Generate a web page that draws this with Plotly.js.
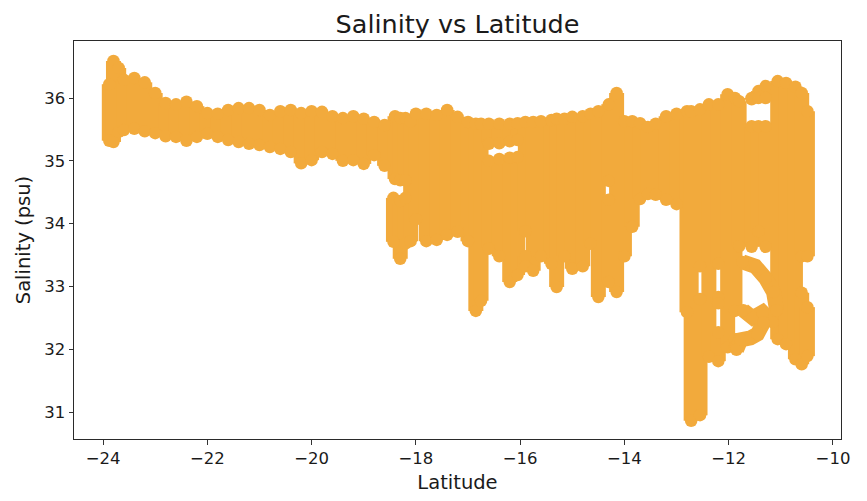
<!DOCTYPE html>
<html>
<head>
<meta charset="utf-8">
<script src="https://cdn.plot.ly/plotly-3.0.1.min.js"></script>
<style>html,body{margin:0;padding:0;background:#fff}</style>
</head>
<body>
<div id="chart" style="width:867px;height:501px"></div>
<script>
const chartTitle = "Salinity vs Latitude";
const xAxisTitle = "Latitude";
const yAxisTitle = "Salinity (psu)";
const latitudeTicks = [-24,-22,-20,-18,-16,-14,-12,-10];
const salinityTicks = [31,32,33,34,35,36];

// Survey sweeps: latitude, highest and lowest salinity of each sweep
const sweepLatitude = [
-23.88,-23.8,-23.7,-23.6,-23.4,-23.2,-23,-22.8,-22.6,-22.4,-22.2,-22,-21.8,-21.6,-21.4,-21.2,-21,-20.8,-20.6,-20.4,
-20.2,-20,-19.8,-19.6,-19.4,-19.2,-19,-18.8,-18.6,-18.4,-18.43,-18.3,-18.3,-18.2,-18.2,-18.1,-18,-17.8,-17.6,-17.4,
-17.2,-17,-16.85,-16.75,-16.6,-16.6,-16.4,-16.4,-16.2,-16.2,-16.05,-16.05,-15.9,-15.9,-15.75,-15.6,-15.4,-15.3,-15.15,-15,
-14.8,-14.65,-14.5,-14.3,-14.3,-14.15,-14,-13.85,-13.7,-13.55,-13.4,-13.2,-13,-12.8,-12.72,-12.55,-12.55,-12.38,-12.2,-12.2,
-12.2,-12.02,-11.88,-11.88,-11.8,-11.56,-11.56,-11.43,-11.43,-11.29,-11.29,-11.06,-10.9,-10.72,-10.6,-10.6,-10.49,-10.49];
const sweepHigh = [
36.22,36.59,36.48,36.29,36.32,36.25,36.08,35.92,35.90,35.94,35.87,35.76,35.75,35.81,35.84,35.84,35.81,35.73,35.79,35.81,
35.76,35.79,35.78,35.71,35.68,35.71,35.67,35.62,35.57,35.71,34.41,35.68,34.36,35.68,34.41,35.63,35.75,35.75,35.73,35.81,
35.70,35.62,35.59,35.59,35.59,35.00,35.59,35.03,35.59,35.05,35.60,35.06,35.62,33.48,35.62,35.63,35.65,35.67,35.67,35.70,
35.71,35.75,35.79,35.90,34.38,36.08,35.63,35.63,35.60,35.54,35.59,35.71,35.75,35.79,35.79,35.82,32.80,35.90,35.90,32.83,
32.27,36.06,36.00,32.16,35.95,36.00,35.55,36.11,35.55,36.19,35.55,36.27,36.24,36.18,36.08,32.90,35.79,32.67];
const sweepLow = [
35.32,35.30,35.46,35.49,35.51,35.47,35.44,35.39,35.38,35.32,35.38,35.43,35.38,35.33,35.30,35.27,35.25,35.22,35.19,35.14,
34.96,35.01,35.14,35.11,35.00,35.01,34.95,35.09,34.92,34.71,33.71,34.69,33.44,34.69,33.68,33.72,34.07,33.72,33.74,33.82,
33.87,33.72,32.61,32.77,35.27,33.60,35.28,33.48,35.31,33.07,35.33,33.18,33.88,33.32,33.25,33.48,33.36,32.99,33.48,33.28,
33.32,33.68,32.83,34.68,33.07,32.91,33.48,33.95,34.39,34.47,34.46,34.38,34.31,32.59,30.86,33.32,30.95,31.88,33.36,32.73,
31.81,32.03,32.61,32.03,33.64,35.98,33.63,36.00,33.88,36.00,33.63,32.16,32.08,31.84,33.48,31.76,33.48,31.89];

// Side tracks in the lower right (null separates the tracks)
const trackLatitude = [-11.735,-11.49,-11.29,-11.14,-11.08,null,-11.72,-11.54,-11.35,-11.16,null,-11.85,-11.77,-11.58,-11.45,-11.33];
const trackSalinity = [33.39,33.32,33.13,32.91,32.62,null,32.62,32.50,32.59,32.43,null,31.99,32.15,32.18,32.24,32.43];

const sweepX = [], sweepY = [];
sweepLatitude.forEach((lat, i) => {
  sweepX.push(lat, lat, null);
  sweepY.push(sweepHigh[i], sweepLow[i], null);
});

const markColor = "#f2aa3c";
const textColor = "#1a1a1a";
const common = {
  type: "scatter", mode: "lines+markers", hoverinfo: "skip", showlegend: false,
  line: {color: markColor, width: 15},
  marker: {color: markColor, size: 12.5, line: {width: 0}}
};
const axisBase = {
  showgrid: false, zeroline: false, showline: true, mirror: true,
  linecolor: "#2a2a2a", linewidth: 1,
  ticks: "outside", ticklen: 4.5, tickwidth: 1, tickcolor: "#333",
  tickfont: {family: "DejaVu Sans", size: 16.5, color: textColor},
  tickmode: "array"
};
Plotly.newPlot("chart", [
  Object.assign({x: sweepX, y: sweepY}, common),
  Object.assign({x: trackLatitude, y: trackSalinity}, common)
], {
  width: 867, height: 501,
  margin: {l: 74, r: 26, t: 41, b: 62, pad: 0},
  paper_bgcolor: "#fff", plot_bgcolor: "#fff",
  hovermode: false,
  title: {text: chartTitle, x: 0.5, xref: "paper", y: 0.952, yref: "container", yanchor: "middle",
          font: {family: "DejaVu Sans", size: 25.5, color: textColor}},
  xaxis: Object.assign({}, axisBase, {range: [-24.557, -9.846], tickvals: latitudeTicks,
    title: {text: xAxisTitle, standoff: 8, font: {family: "DejaVu Sans", size: 19.5, color: textColor}}}),
  yaxis: Object.assign({}, axisBase, {range: [30.57, 36.908], tickvals: salinityTicks,
    title: {text: yAxisTitle, standoff: 8, font: {family: "DejaVu Sans", size: 19.5, color: textColor}}})
}, {displayModeBar: false, staticPlot: true});
</script>
</body>
</html>
